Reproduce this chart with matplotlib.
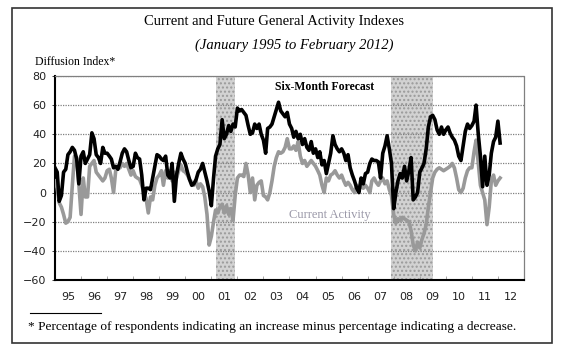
import numpy as np
import pandas as pd
import matplotlib
matplotlib.use("Agg")
import matplotlib.pyplot as plt
import matplotlib.dates as mdates
from matplotlib.patches import Rectangle
from matplotlib.lines import Line2D

# monthly readings, Jan 1995 .. Feb 2012
future = [
    17, 14, -6, -2, 14, 16, 26, 28, 31, 29, 23, 6,        # 1995
    25, 28, 20, 23, 26, 41, 37, 26, 24, 20, 31, 27,       # 1996
    27, 25, 23, 17, 18, 16, 21, 27, 30, 28, 22, 17,       # 1997
    18, 27, 24, 23, 12, -5, 3, 3, 2, 10, 18, 26,          # 1998
    25, 23, 22, 25, 12, 10, 20, -6, 12, 20, 27, 23,       # 1999
    20, 14, 9, 5, 6, 9, 14, 16, 20, 14, 8, 1,            # 2000
    -9, 10, 25, 30, 33, 50, 37, 40, 46, 42, 47, 45,       # 2001
    58, 56, 57, 55, 53, 46, 40, 41, 47, 44, 47, 40,       # 2002
    36, 27, 44, 45, 47, 52, 57, 62, 56, 54, 52, 55,       # 2003
    47, 44, 38, 42, 37, 40, 33, 37, 31, 29, 35, 27,       # 2004
    30, 24, 28, 19, 22, 13, 20, 27, 39, 33, 30, 28,       # 2005
    30, 27, 22, 26, 17, 12, 8, 3, 0, 10, 6, 13,           # 2006
    14, 20, 23, 22, 22, 21, 10, 27, 32, 39, 30, 20,       # 2007
    -11, 0, 8, 13, 10, 18, 8, 15, 24, -5, -3, 0,          # 2008
    14, 17, 20, 30, 45, 52, 53, 50, 43, 40, 45, 40,       # 2009
    43, 45, 41, 38, 36, 32, 25, 22, 32, 42, 47, 44,       # 2010
    46, 49, 60, 40, 25, 4, 25, 5, 12, 27, 35, 38,         # 2011
    49, 34,                                               # 2012
]
current = [
    8, 3, -7, -10, -15, -21, -20, -17, 5, 25, 24, 6,      # 1995
    -15, 10, -3, -3, 18, 20, 22, 14, 12, 10, 8, 10,       # 1996
    15, 16, 10, 0, 15, 18, 17, 20, 18, 20, 16, 12,        # 1997
    15, 11, 10, 9, 5, 0, -4, -14, -3, -5, 5, 10,          # 1998
    12, 15, 5, 15, 10, 15, 8, 14, 10, 15, 19, 15,         # 1999
    14, 12, 9, 7, 5, 8, 3, 6, 4, -3, -15, -36,            # 2000
    -30, -20, -12, -14, -10, -8, -14, -9, -15, -11, -19, -2,  # 2001
    10, 12, 12, 11, 20, 12, 0, 10, -5, 5, 7, 8,           # 2002
    -2, -3, -5, 0, 8, 18, 24, 28, 27, 28, 31, 37,         # 2003
    30, 30, 32, 29, 35, 25, 20, 22, 18, 20, 22, 20,       # 2004
    18, 15, 12, 5, 0, 10, 8, 12, 13, 15, 12, 10,          # 2005
    12, 8, 5, 7, 5, 2, 0, 5, 2, 5, 3, 5,                  # 2006
    3, 0, 8, 10, 7, 5, 8, 10, 6, 8, 2, -2,                # 2007
    -15, -21, -18, -19, -17, -18, -19, -20, -26, -36, -40, -34,  # 2008
    -38, -32, -28, -22, -10, 0, 10, 14, 16, 17, 16, 15,   # 2009
    16, 17, 18, 20, 17, 10, 2, 0, 3, 10, 15, 17,          # 2010
    17, 28, 36, 20, 5, 0, -5, -22, -10, 8, 12, 5,         # 2011
    8, 10,                                                # 2012
]
months = pd.date_range("1995-01-01", periods=len(future), freq="MS")

recessions = [("2001-03-01", "2001-12-01"), ("2007-12-01", "2009-07-01")]
yticks = [-60, -40, -20, 0, 20, 40, 60, 80]

serif = "Liberation Serif"

fig = plt.figure(figsize=(5.63, 3.57), dpi=100)
ax = fig.add_axes([55 / 563, 1 - 280 / 357, 469 / 563, 204 / 357])

for start, end in recessions:
    ax.axvspan(pd.Timestamp(start), pd.Timestamp(end), facecolor="#d2d2d2",
               edgecolor="#9a9a9a", hatch="....", linewidth=0, zorder=1)

for y in yticks[1:]:
    ax.axhline(y, color="#808080", linestyle=(0, (1, 1)), linewidth=0.9, zorder=2)

ax.plot(months, current, color="#999999", linewidth=2.6, zorder=3)
ax.plot(months, future, color="black", linewidth=2.6, zorder=4)

ax.set_xlim(pd.Timestamp("1995-01-01"), pd.Timestamp("2013-01-01"))
ax.set_ylim(-60, 80)
ax.set_yticks(yticks)
ax.tick_params(axis="y", length=2, width=0.6, pad=4, labelsize=8, colors="#222222")

ax.xaxis.set_major_locator(mdates.MonthLocator(bymonth=7, bymonthday=1))
ax.xaxis.set_major_formatter(mdates.DateFormatter("%y"))
ax.xaxis.set_minor_locator(mdates.YearLocator())
ax.tick_params(axis="x", which="major", length=0, pad=9, labelsize=8, colors="#222222")
ax.tick_params(axis="x", which="minor", direction="in", length=3, width=0.6, color="#999999")

ax.spines["left"].set_linewidth(1.5)
ax.spines["bottom"].set_linewidth(1.5)
for s in ("top", "right"):
    ax.spines[s].set_color("#808080")
    ax.spines[s].set_linestyle((0, (1, 1)))
    ax.spines[s].set_linewidth(0.9)

ax.text(0.575, 0.945, "Six-Month Forecast", transform=ax.transAxes, ha="center",
        va="center", family=serif, fontsize=8.5, fontweight="bold", zorder=5)
ax.text(0.585, 0.32, "Current Activity", transform=ax.transAxes, ha="center",
        va="center", family=serif, fontsize=9, color="#9a98a8", zorder=5)

fig.text(274 / 563, 1 - 22 / 357, "Current and Future General Activity Indexes",
         ha="center", va="center", family=serif, fontsize=10.5)
fig.text(294 / 563, 1 - 45 / 357, "(January 1995 to February 2012)", ha="center",
         va="center", family=serif, fontsize=10.5, style="italic")
fig.text(35 / 563, 1 - 62 / 357, "Diffusion Index*", ha="left", va="center",
         family=serif, fontsize=8.5)
fig.text(28 / 563, 1 - 327 / 357,
         "* Percentage of respondents indicating an increase minus percentage indicating a decrease.",
         ha="left", va="center", family=serif, fontsize=9.6)

fig.add_artist(Line2D([30 / 563, 101 / 563], [1 - 313 / 357, 1 - 313 / 357],
                      color="black", linewidth=0.8))
fig.add_artist(Rectangle((12 / 563, 1 - 343 / 357), 540 / 563, 335 / 357,
                         fill=False, edgecolor="#333333", linewidth=1.2))

fig.savefig("out.png", dpi=100)
